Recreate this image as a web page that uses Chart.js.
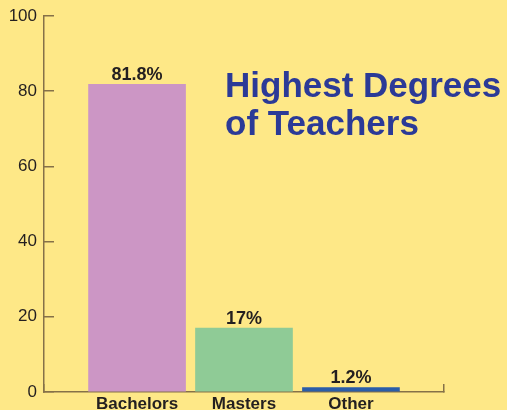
<!DOCTYPE html>
<html>
<head>
<meta charset="utf-8">
<script src="https://cdn.jsdelivr.net/npm/chart.js@4.4.1/dist/chart.umd.min.js"></script>
<style>
  html, body { margin: 0; padding: 0; background: #fee887; }
  #wrap { width: 507px; height: 410px; position: relative; }
</style>
</head>
<body>
<div id="wrap"><canvas id="grafico"></canvas></div>
<script>
// dados
const categorias = ["Bachelors", "Masters", "Other"];
const valores = [81.8, 17, 1.2];
const coresBarras = ["#cc96c5", "#8fcb96", "#2a5da8"];
const ticksY = [0, 20, 40, 60, 80, 100];
const titulo = ["Highest Degrees", "of Teachers"];

const corEixo = "#857148";
const corTexto = "#231f20";

/* ------------------------------
   Rótulos de valor e título
-------------------------------*/
const pluginTextos = {
    id: "textos",
    afterDatasetsDraw(chart) {
        const ctx = chart.ctx;
        const meta = chart.getDatasetMeta(0);
        ctx.save();
        ctx.fillStyle = corTexto;
        ctx.font = "bold 18px 'Liberation Sans', Arial, sans-serif";
        ctx.textAlign = "center";
        ctx.textBaseline = "alphabetic";
        meta.data.forEach((bar, i) => {
            ctx.fillText(valores[i] + "%", bar.x, bar.y - 4);
        });

        ctx.fillStyle = "#2b3a97";
        ctx.font = "bold 35px 'Liberation Sans', Arial, sans-serif";
        ctx.textAlign = "left";
        titulo.forEach((linha, i) => {
            ctx.fillText(linha, 225, 97 + i * 38);
        });
        ctx.restore();
    }
};

const ctx = document.getElementById("grafico");

new Chart(ctx, {
    type: "bar",
    data: {
        datasets: [{
            data: categorias.map((c, i) => ({ x: i + 1, y: valores[i] })),
            backgroundColor: coresBarras,
            barThickness: 97
        }]
    },
    options: {
        responsive: true,
        maintainAspectRatio: false,
        animation: false,
        layout: { padding: { top: 16, right: 63, left: 0, bottom: 0 } },
        plugins: {
            legend: { display: false },
            tooltip: { enabled: false }
        },
        scales: {
            x: {
                type: "linear",
                offset: false,
                min: 0.13,
                max: 3.87,
                afterBuildTicks: eixo => {
                    eixo.ticks = [0.13, 1, 2, 3, 3.87].map(v => ({ value: v }));
                },
                afterFit: eixo => { eixo.height = 18; },
                border: { color: corEixo, width: 1.5 },
                grid: {
                    offset: false,
                    drawOnChartArea: false,
                    tickLength: -8,
                    lineWidth: 1.5,
                    tickColor: c => (c.tick && Number.isInteger(c.tick.value)) ? "rgba(0,0,0,0)" : corEixo
                },
                ticks: {
                    padding: 10,
                    maxRotation: 0,
                    autoSkip: false,
                    color: corTexto,
                    font: { family: "'Liberation Sans', Arial, sans-serif", size: 17, weight: "bold" },
                    callback: v => Number.isInteger(v) ? categorias[v - 1] : ""
                }
            },
            y: {
                min: 0,
                max: 100,
                afterBuildTicks: eixo => {
                    eixo.ticks = ticksY.map(v => ({ value: v }));
                },
                afterFit: eixo => {
                    eixo.width = 44;
                    eixo.paddingTop = 0;
                    eixo.paddingBottom = 0;
                },
                border: { color: corEixo, width: 1.5 },
                grid: {
                    drawOnChartArea: false,
                    tickLength: -10,
                    lineWidth: 1.5,
                    tickColor: corEixo
                },
                ticks: {
                    padding: 17,
                    color: corTexto,
                    font: { family: "'Liberation Sans', Arial, sans-serif", size: 17 }
                }
            }
        }
    },
    plugins: [pluginTextos]
});
</script>
</body>
</html>
